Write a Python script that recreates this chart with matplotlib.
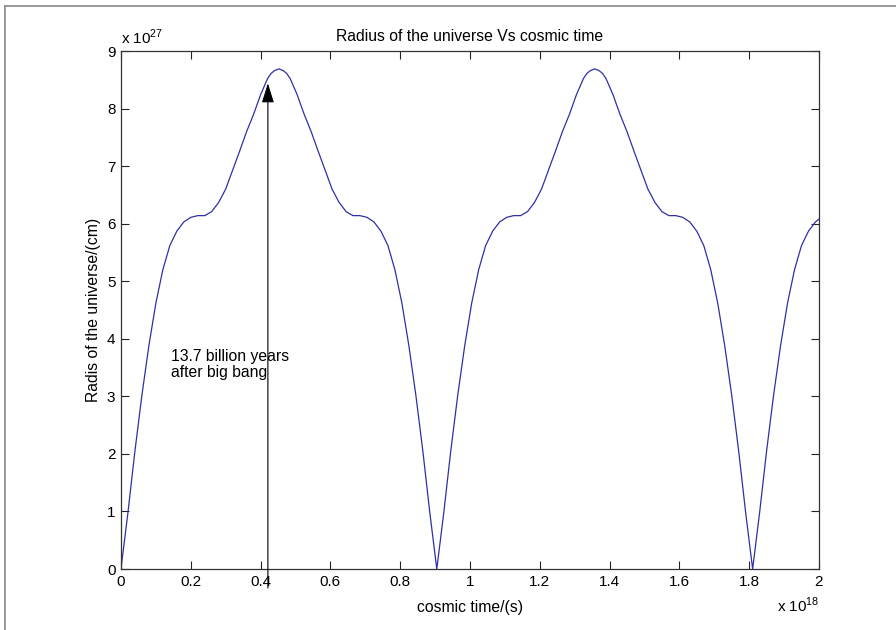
import matplotlib
matplotlib.use('Agg')
import matplotlib.pyplot as plt
from matplotlib.lines import Line2D

plt.rcParams['font.family'] = ['Liberation Sans', 'DejaVu Sans']

# cosmic time in units of 1e18 s, radius in units of 1e27 cm
time = [0.00, 0.02, 0.04, 0.06, 0.08, 0.10, 0.12, 0.14, 0.16, 0.18, 0.20, 0.22,
        0.24, 0.26, 0.28, 0.30, 0.32, 0.34, 0.36, 0.38, 0.40, 0.42, 0.43, 0.44, 0.4525,
        0.465, 0.475, 0.485, 0.505, 0.525, 0.545, 0.565, 0.585, 0.605, 0.625, 0.645, 0.665,
        0.685, 0.705, 0.725, 0.745, 0.765, 0.785, 0.805, 0.825, 0.845, 0.865, 0.885, 0.905,
        0.925, 0.945, 0.965, 0.985, 1.005, 1.025, 1.045, 1.065, 1.085, 1.105, 1.125,
        1.145, 1.165, 1.185, 1.205, 1.225, 1.245, 1.265, 1.285, 1.305, 1.325, 1.335, 1.345, 1.3575,
        1.37, 1.38, 1.39, 1.41, 1.43, 1.45, 1.47, 1.49, 1.51, 1.53, 1.55, 1.57,
        1.59, 1.61, 1.63, 1.65, 1.67, 1.69, 1.71, 1.73, 1.75, 1.77, 1.79, 1.81,
        1.83, 1.85, 1.87, 1.89, 1.91, 1.93, 1.95, 1.97, 1.99, 2.00]
radius = [0.00, 0.98, 2.05, 3.02, 3.88, 4.62, 5.20, 5.62, 5.87, 6.03, 6.11, 6.14,
          6.14, 6.21, 6.37, 6.60, 6.93, 7.26, 7.60, 7.90, 8.24, 8.52, 8.61, 8.66, 8.69,
          8.66, 8.61, 8.52, 8.24, 7.90, 7.60, 7.26, 6.93, 6.60, 6.37, 6.21, 6.14,
          6.14, 6.11, 6.03, 5.87, 5.62, 5.20, 4.62, 3.88, 3.02, 2.05, 0.98, 0.00,
          0.98, 2.05, 3.02, 3.88, 4.62, 5.20, 5.62, 5.87, 6.03, 6.11, 6.14,
          6.14, 6.21, 6.37, 6.60, 6.93, 7.26, 7.60, 7.90, 8.24, 8.52, 8.61, 8.66, 8.69,
          8.66, 8.61, 8.52, 8.24, 7.90, 7.60, 7.26, 6.93, 6.60, 6.37, 6.21, 6.14,
          6.14, 6.11, 6.03, 5.87, 5.62, 5.20, 4.62, 3.88, 3.02, 2.05, 0.98, 0.00,
          0.98, 2.05, 3.02, 3.88, 4.62, 5.20, 5.62, 5.87, 6.03, 6.08]

xticks = [0, 0.2, 0.4, 0.6, 0.8, 1, 1.2, 1.4, 1.6, 1.8, 2]
xticklabels = ['0', '0.2', '0.4', '0.6', '0.8', '1', '1.2', '1.4', '1.6', '1.8', '2']
yticks = [0, 1, 2, 3, 4, 5, 6, 7, 8, 9]

arrow_time = 0.421
arrow_tip = 8.44

fig = plt.figure(figsize=(8.96, 6.3), dpi=100)
ax = fig.add_axes([0.1350, 0.0968, 0.7790, 0.8222])

ax.plot(time, radius, color='#2f2fa8', linewidth=0.9)

ax.set_xlim(0, 2)
ax.set_ylim(0, 9)
ax.set_xticks(xticks)
ax.set_xticklabels(xticklabels)
ax.set_yticks(yticks)
ax.tick_params(direction='in', length=5.5, width=0.8, top=True, right=True,
               labelsize=11, pad=4, colors='#222222', labelcolor='black')
for s in ax.spines.values():
    s.set_color('#333333')
    s.set_linewidth(0.9)

ax.set_title('Radius of the universe Vs cosmic time', fontsize=11.3, pad=7)
ax.set_xlabel('cosmic time/(s)', fontsize=11.3, labelpad=8)
ax.set_ylabel('Radis of the universe/(cm)', fontsize=11.3, labelpad=4)

# exponent labels in MATLAB style
ax.text(0.0, 1.008, r'x 10$^{\mathregular{27}}$', transform=ax.transAxes,
        fontsize=11, ha='left', va='bottom')
ax.text(1.0, -0.052, r'x 10$^{\mathregular{18}}$', transform=ax.transAxes,
        fontsize=11, ha='right', va='top')

# arrow marking present time
ax.annotate('', xy=(arrow_time, arrow_tip), xytext=(arrow_time, -0.33),
            arrowprops=dict(arrowstyle='-|>,head_length=0.8,head_width=0.25',
                            color='black', lw=0.8, mutation_scale=15,
                            shrinkA=0, shrinkB=0),
            annotation_clip=False)
ax.text(0.142, 3.56, '13.7 billion years\nafter big bang', fontsize=11.3,
        ha='left', va='center', linespacing=1.1)

# figure frame (top and left edges visible)
fig.add_artist(Line2D([5 / 896, 5 / 896], [0, 1 - 6 / 630], color='#888888', lw=1.2))
fig.add_artist(Line2D([5 / 896, 1], [1 - 6 / 630, 1 - 6 / 630], color='#888888', lw=1.2))

fig.savefig('out.png', dpi=100)
